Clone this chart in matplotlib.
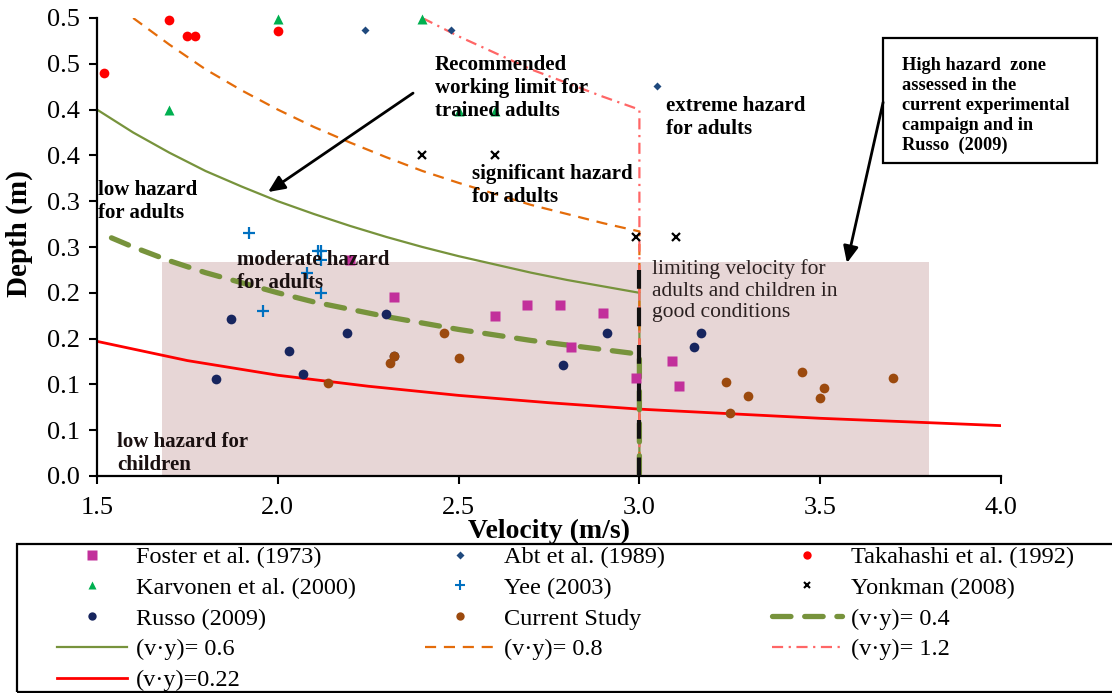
import numpy as np
import matplotlib
matplotlib.use('Agg')
import matplotlib.pyplot as plt
from matplotlib.lines import Line2D
from matplotlib.patches import Rectangle

plt.rcParams['font.family'] = ['Liberation Serif', 'DejaVu Serif']

# ---- data ----
foster_v = [2.20, 2.32, 2.60, 2.69, 2.78, 2.90, 2.81, 2.99, 3.09, 3.11]
foster_y = [0.236, 0.195, 0.175, 0.187, 0.187, 0.178, 0.141, 0.107, 0.126, 0.098]

abt_v = [2.24, 2.48, 3.05]
abt_y = [0.487, 0.487, 0.426]

takahashi_v = [1.52, 1.70, 1.75, 1.77, 2.00]
takahashi_y = [0.440, 0.498, 0.480, 0.480, 0.486]

karvonen_v = [1.70, 2.00, 2.40, 2.50, 2.60]
karvonen_y = [0.400, 0.499, 0.499, 0.398, 0.398]

yee_v = [1.92, 2.11, 2.12, 2.12, 2.08, 2.12, 1.96]
yee_y = [0.265, 0.246, 0.246, 0.236, 0.222, 0.200, 0.180]

yonkman_v = [2.40, 2.60, 2.99, 3.10]
yonkman_y = [0.350, 0.350, 0.261, 0.261]

russo_v = [1.83, 1.87, 2.03, 2.07, 2.19, 2.30, 2.32, 2.79, 2.91, 3.15, 3.17]
russo_y = [0.106, 0.171, 0.136, 0.111, 0.156, 0.177, 0.131, 0.121, 0.156, 0.141, 0.156]

current_v = [2.14, 2.46, 2.50, 2.32, 2.31, 3.24, 3.30, 3.25, 3.45, 3.51, 3.50, 3.70]
current_y = [0.101, 0.156, 0.129, 0.131, 0.123, 0.103, 0.087, 0.069, 0.113, 0.096, 0.085, 0.107]

# hazard curves (v*y = const), ending with the drop at the limiting velocity
c04_v = [1.54, 1.6, 1.7, 1.8, 1.9, 2.0, 2.1, 2.2, 2.3, 2.4, 2.5, 2.6, 2.7, 2.8, 2.9, 3.0, 3.0]
c04_y = [0.260, 0.250, 0.235, 0.222, 0.211, 0.200, 0.190, 0.182, 0.174, 0.167, 0.160,
         0.154, 0.148, 0.143, 0.138, 0.133, 0.0]

c06_v = [1.5, 1.6, 1.7, 1.8, 1.9, 2.0, 2.1, 2.2, 2.3, 2.4, 2.5, 2.6, 2.7, 2.8, 2.9, 3.0, 3.0]
c06_y = [0.400, 0.375, 0.353, 0.333, 0.316, 0.300, 0.286, 0.273, 0.261, 0.250, 0.240,
         0.231, 0.222, 0.214, 0.207, 0.200, 0.0]

c08_v = [1.6, 1.7, 1.8, 1.9, 2.0, 2.1, 2.2, 2.3, 2.4, 2.5, 2.6, 2.7, 2.8, 2.9, 3.0, 3.0]
c08_y = [0.500, 0.471, 0.444, 0.421, 0.400, 0.381, 0.364, 0.348, 0.333, 0.320, 0.308,
         0.296, 0.286, 0.276, 0.267, 0.0]

c12_v = [2.4, 2.5, 2.6, 2.7, 2.8, 2.9, 3.0, 3.0]
c12_y = [0.500, 0.480, 0.462, 0.444, 0.429, 0.414, 0.400, 0.0]

c022_v = [1.5, 1.75, 2.0, 2.25, 2.5, 2.75, 3.0, 3.25, 3.5, 3.75, 4.0]
c022_y = [0.147, 0.126, 0.110, 0.098, 0.088, 0.080, 0.073, 0.068, 0.063, 0.059, 0.055]

limit_v = [3.0, 3.0]
limit_y = [0.225, 0.0]

zone_v = [1.68, 3.80]
zone_y = [0.0, 0.234]

x_ticks = [1.5, 2.0, 2.5, 3.0, 3.5, 4.0]
x_ticklabels = ['1.5', '2.0', '2.5', '3.0', '3.5', '4.0']
y_ticks = [0.0, 0.05, 0.1, 0.15, 0.2, 0.25, 0.3, 0.35, 0.4, 0.45, 0.5]
y_ticklabels = ['0.0', '0.1', '0.1', '0.2', '0.2', '0.3', '0.3', '0.4', '0.4', '0.5', '0.5']

W, H = 1112, 693
fig = plt.figure(figsize=(W / 100, H / 100), dpi=100)
ax = fig.add_axes([97 / W, 1 - 476 / H, (1001 - 97) / W, (476 - 18) / H])

ax.add_patch(Rectangle((zone_v[0], zone_y[0]), zone_v[1] - zone_v[0], zone_y[1] - zone_y[0],
                       facecolor='#E7D6D6', edgecolor='none', zorder=0))

olive = '#77933C'
ax.plot(c022_v, c022_y, color='#FF0000', lw=2.0, zorder=2)
ax.plot(c06_v, c06_y, color=olive, lw=1.6, zorder=2)
ax.plot(c08_v, c08_y, color='#E46C0A', lw=1.6, dashes=(5, 3.5), zorder=2)
ax.plot(c12_v, c12_y, color='#FF6666', lw=1.6, dashes=(5, 2.5, 1, 2.5), zorder=2)
ax.plot(c04_v, c04_y, color=olive, lw=3.8, dashes=(3.5, 2.6), dash_capstyle='round', zorder=2)
ax.plot(limit_v, limit_y, color='#111111', lw=3.0, dashes=(4.5, 4.5), zorder=3)

ms = dict(linestyle='none', zorder=4, clip_on=False)
ax.plot(foster_v, foster_y, marker='s', ms=7, color='#C2309B', mec='none', **ms)
ax.plot(abt_v, abt_y, marker='D', ms=4.5, color='#1F497D', mec='none', **ms)
ax.plot(takahashi_v, takahashi_y, marker='o', ms=7, color='#FF0000', mec='none', **ms)
ax.plot(karvonen_v, karvonen_y, marker='^', ms=6.5, color='#00B050', mec='none', **ms)
ax.plot(yee_v, yee_y, marker='+', ms=8, mew=1.6, color='#0070C0', **ms)
ax.plot(yonkman_v, yonkman_y, marker='x', ms=5.5, mew=1.6, color='black', **ms)
ax.plot(russo_v, russo_y, marker='o', ms=7, color='#17255E', mec='none', **ms)
ax.plot(current_v, current_y, marker='o', ms=7, color='#9C4A0E', mec='none', **ms)

ax.set_xlim(1.5, 4.0)
ax.set_ylim(0.0, 0.5)
ax.set_xticks(x_ticks)
ax.set_xticklabels(x_ticklabels)
ax.set_yticks(y_ticks)
ax.set_yticklabels(y_ticklabels)
ax.tick_params(direction='out', length=6, width=1.5, labelsize=19, pad=6)
ax.tick_params(axis='x', pad=9)
for s in ['top', 'right']:
    ax.spines[s].set_visible(False)
for s in ['left', 'bottom']:
    ax.spines[s].set_linewidth(1.6)

ax.set_xlabel('Velocity (m/s)', fontsize=20, fontweight='bold')
ax.set_ylabel('Depth (m)', fontsize=21, fontweight='bold')
ax.xaxis.set_label_coords(0.5, -0.094)
ax.yaxis.set_label_coords(-0.071, 0.53)

bold = dict(fontsize=15, fontweight='bold', va='top', ha='left', linespacing=1.2, zorder=6)
ax.text(2.435, 0.460, 'Recommended\nworking limit for\ntrained adults', **bold)
ax.text(3.074, 0.415, 'extreme hazard\nfor adults', **bold)
ax.text(2.537, 0.341, 'significant hazard\nfor adults', **bold)
ax.text(1.503, 0.323, 'low hazard\nfor adults', **bold)
ax.text(1.887, 0.247, 'moderate hazard\nfor adults', color='#1a1010', **bold)
ax.text(1.555, 0.048, 'low hazard for\nchildren', color='#1a1010', **bold)
ax.text(3.035, 0.237, 'limiting velocity for\nadults and children in\ngood conditions',
        fontsize=15.5, color='#2a2020', va='top', ha='left', linespacing=1.2, zorder=6)

# boxed note to the right
ax.add_patch(Rectangle((3.674, 0.342), 0.592, 0.136, facecolor='white', edgecolor='black',
                       lw=1.6, clip_on=False, zorder=6))
ax.text(3.726, 0.457, 'High hazard  zone\nassessed in the\ncurrent experimental\ncampaign and in\nRusso  (2009)',
        fontsize=13.2, fontweight='bold', va='top', ha='left', linespacing=1.22, zorder=7, clip_on=False)

arrow = dict(arrowstyle='-|>,head_length=1.0,head_width=0.45', color='black', lw=2, shrinkA=0, shrinkB=0)
ax.annotate('', xy=(1.973, 0.310), xytext=(2.374, 0.418), arrowprops=arrow, zorder=7)
ax.annotate('', xy=(3.574, 0.2325), xytext=(3.674, 0.408), arrowprops=arrow, zorder=7,
            annotation_clip=False)

# legend: three equal-pitch columns, each its own legend
def mk(marker, color, size, mew=None):
    return Line2D([], [], linestyle='none', marker=marker, ms=size, color=color,
                  mec=color if mew else 'none', mew=mew if mew else 1.0)

col1 = [(mk('s', '#C2309B', 6.5), 'Foster et al. (1973)'),
        (mk('^', '#00B050', 5.5), 'Karvonen et al. (2000)'),
        (mk('o', '#17255E', 6), 'Russo (2009)'),
        (Line2D([], [], color=olive, lw=1.6), '(v\u00b7y)= 0.6'),
        (Line2D([], [], color='#FF0000', lw=2.0), '(v\u00b7y)=0.22')]
col2 = [(mk('D', '#1F497D', 4), 'Abt et al. (1989)'),
        (mk('+', '#0070C0', 7, 1.5), 'Yee (2003)'),
        (mk('o', '#9C4A0E', 6), 'Current Study'),
        (Line2D([], [], color='#E46C0A', lw=1.6, dashes=(5, 3.5)), '(v\u00b7y)= 0.8')]
col3 = [(mk('o', '#FF0000', 6), 'Takahashi et al. (1992)'),
        (mk('x', 'black', 5, 1.5), 'Yonkman (2008)'),
        (Line2D([], [], color=olive, lw=3.8, dashes=(3.5, 2.6), dash_capstyle='round'), '(v\u00b7y)= 0.4'),
        (Line2D([], [], color='#FF6666', lw=1.6, dashes=(5, 2.5, 1, 2.5)), '(v\u00b7y)= 1.2')]

fig.add_artist(Rectangle((17 / W, 1 / H), 1108 / W, 148 / H, transform=fig.transFigure,
                         facecolor='none', edgecolor='black', lw=1.6))
for x0, col in zip([57, 425, 772], [col1, col2, col3]):
    fig.legend([h for h, _ in col], [t for _, t in col], loc='upper left',
               bbox_to_anchor=(x0 / W, 1 - 546 / H), fontsize=17.5, frameon=False,
               handlelength=2.9, handletextpad=0.35, labelspacing=0.36,
               borderpad=0, borderaxespad=0)

fig.savefig('out.png', dpi=100)
